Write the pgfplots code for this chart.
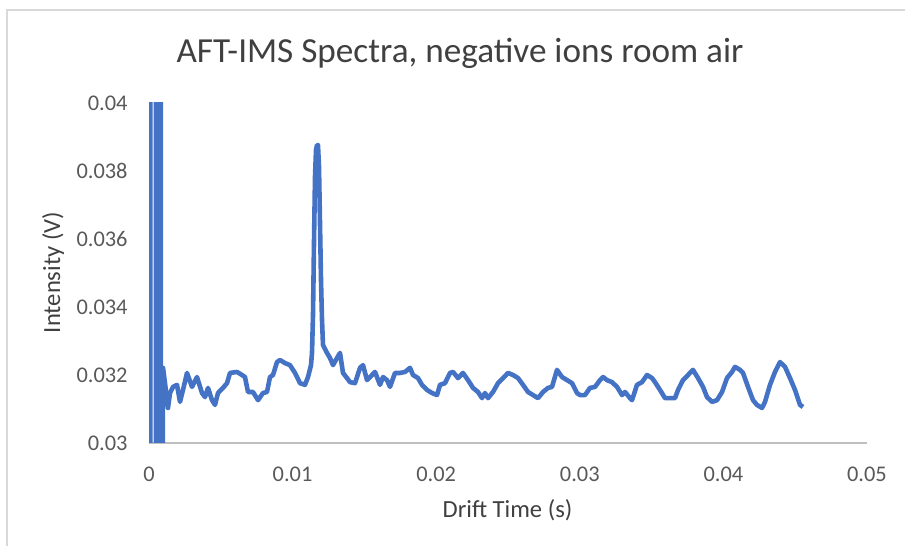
\documentclass[border=0pt]{standalone}
\usepackage{pgfplots}
\pgfplotsset{compat=1.18}
\usepackage{fontspec}
\setmainfont{Carlito}
\definecolor{serblue}{HTML}{4472C4}
\definecolor{framegray}{HTML}{D9D9D9}
\definecolor{axisgray}{HTML}{BFBFBF}
\definecolor{tickgray}{HTML}{595959}
\definecolor{labgray}{HTML}{404040}
\begin{document}
\begin{tikzpicture}
\useasboundingbox (0,0) rectangle (452.5pt,273pt);
\draw[color=framegray, line width=0.75pt] (3.5pt,0) -- (3.5pt,268pt) -- (452.5pt,268pt);
\begin{axis}[
  at={(74.5pt,51.5pt)}, anchor=south west,
  scale only axis, width=359pt, height=170pt,
  xmin=0, xmax=0.05, ymin=0.03, ymax=0.04,
  scaled ticks=false,
  separate axis lines,
  axis x line*=bottom, axis y line*=left,
  x axis line style={draw=axisgray, line width=1pt, -},
  y axis line style={draw=none},
  tick style={draw=none},
  xtick={0,0.01,0.02,0.03,0.04,0.05},
  xticklabels={0,0.01,0.02,0.03,0.04,0.05},
  ytick={0.03,0.032,0.034,0.036,0.038,0.04},
  yticklabels={0.03,0.032,0.034,0.036,0.038,0.04},
  xticklabel style={anchor=north, inner sep=0pt, yshift=-12pt, font=\fontsize{11.2}{13}\selectfont, text=tickgray},
  yticklabel style={anchor=east, inner sep=0pt, xshift=-10.5pt, font=\fontsize{11.2}{13}\selectfont, text=tickgray},
  clip=true,
]
\addplot[serblue, line width=2.3pt, line join=round, no marks] table {
x y
0.00001 0.025
0.00001 0.045
0.0001 0.045
0.0001 0.025
0.00049 0.025
0.00049 0.045
0.00063 0.045
0.00063 0.025
0.00075 0.025
0.00075 0.045
0.00082 0.045
0.00082 0.025
0.00092 0.025
0.000975 0.03221
0.001114 0.03176
0.001323 0.03103
0.001462 0.03147
0.001671 0.03165
0.00195 0.03171
0.002159 0.03121
0.002368 0.03156
0.002646 0.03206
0.002995 0.03165
0.003343 0.03194
0.003691 0.03147
0.0039 0.03135
0.004109 0.03162
0.004387 0.03126
0.004596 0.03112
0.004805 0.03147
0.005153 0.03162
0.005432 0.03176
0.005641 0.03206
0.006128 0.03209
0.006476 0.03200
0.006685 0.03194
0.006894 0.03150
0.007242 0.03150
0.007591 0.03126
0.007939 0.03147
0.008217 0.03150
0.008426 0.03194
0.008635 0.03200
0.008914 0.03238
0.009123 0.03244
0.009471 0.03235
0.009819 0.03229
0.010167 0.03206
0.010516 0.03176
0.010864 0.03171
0.011073 0.03194
0.011282 0.03229
0.011351 0.03265
0.011421 0.03376
0.01149 0.03588
0.01156 0.03782
0.01163 0.03862
0.011699 0.03876
0.011769 0.03876
0.011839 0.03812
0.011908 0.03647
0.011978 0.03479
0.012048 0.03362
0.012117 0.03288
0.012396 0.03265
0.012605 0.03250
0.012814 0.03229
0.013092 0.03250
0.013301 0.03265
0.01351 0.03206
0.013789 0.03191
0.013998 0.03179
0.014346 0.03176
0.014694 0.03221
0.014903 0.03229
0.015182 0.03185
0.01553 0.03200
0.015739 0.03209
0.016087 0.03171
0.016296 0.03194
0.016574 0.03185
0.016783 0.03165
0.017131 0.03206
0.01748 0.03206
0.017828 0.03209
0.018176 0.03221
0.018385 0.03200
0.018733 0.03191
0.019012 0.03171
0.01936 0.03156
0.019708 0.03147
0.020056 0.03141
0.020265 0.03171
0.020613 0.03176
0.020962 0.03206
0.021171 0.03209
0.021519 0.03191
0.021867 0.03206
0.022215 0.03185
0.022563 0.03162
0.022912 0.03150
0.02319 0.03132
0.023399 0.03147
0.023608 0.03132
0.023956 0.03150
0.024304 0.03176
0.024653 0.03191
0.025001 0.03206
0.025349 0.03200
0.025697 0.03191
0.026045 0.03171
0.026394 0.03150
0.026742 0.03141
0.02709 0.03132
0.027438 0.03150
0.027786 0.03162
0.028065 0.03165
0.028413 0.03215
0.028761 0.03194
0.02911 0.03185
0.029458 0.03176
0.029806 0.03147
0.030015 0.03141
0.030363 0.03141
0.030711 0.03162
0.031059 0.03165
0.031408 0.03185
0.031617 0.03194
0.031895 0.03185
0.032243 0.03179
0.032592 0.03165
0.03294 0.03141
0.033149 0.03150
0.033497 0.03132
0.033636 0.03126
0.033984 0.03171
0.034333 0.03179
0.034681 0.03200
0.035029 0.03191
0.035238 0.03179
0.035586 0.03156
0.035934 0.03132
0.036282 0.03132
0.036631 0.03132
0.03684 0.03156
0.037188 0.03185
0.037536 0.03200
0.037884 0.03215
0.038233 0.03191
0.038581 0.03165
0.038859 0.03135
0.039207 0.03121
0.039556 0.03126
0.039904 0.03150
0.040252 0.03191
0.0406 0.03209
0.040809 0.03224
0.041157 0.03215
0.041366 0.03206
0.041714 0.03165
0.042063 0.03126
0.042341 0.03112
0.042689 0.03103
0.042898 0.03121
0.043246 0.03171
0.043595 0.03209
0.043943 0.03238
0.044291 0.03224
0.044639 0.03191
0.044987 0.03156
0.045336 0.03112
0.045545 0.03106
};
\end{axis}
\node[anchor=base, inner sep=0pt, text=labgray, font=\fontsize{17.6}{20}\selectfont] at (230pt,241.5pt) {AFT-IMS Spectra, negative ions room air};
\node[anchor=base, inner sep=0pt, text=labgray, font=\fontsize{12.3}{14}\selectfont] at (253.75pt,14pt) {Drift Time (s)};
\node[anchor=base, inner sep=0pt, rotate=90, text=labgray, font=\fontsize{12.3}{14}\selectfont] at (30pt,136.75pt) {Intensity (V)};
\end{tikzpicture}
\end{document}
